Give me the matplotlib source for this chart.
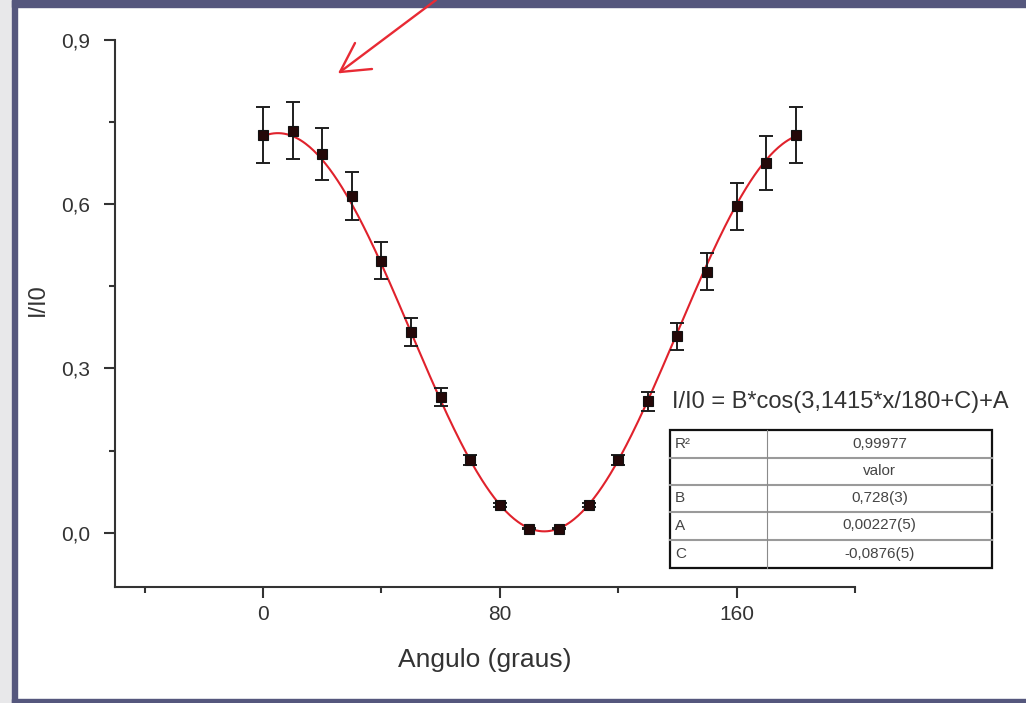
import numpy as np
import matplotlib.pyplot as plt
from matplotlib.patches import Rectangle

plt.rcParams['font.family'] = ['Liberation Sans', 'DejaVu Sans']

# Dados
angulo = [0, 10, 20, 30, 40, 50, 60, 70, 80, 90, 100, 110, 120, 130, 140, 150, 160, 170, 180]
intensidade = [0.727, 0.735, 0.692, 0.616, 0.497, 0.367, 0.248, 0.132, 0.051, 0.007,
               0.007, 0.051, 0.132, 0.240, 0.359, 0.477, 0.597, 0.676, 0.727]
erro = [0.051, 0.052, 0.048, 0.044, 0.034, 0.025, 0.016, 0.009, 0.004, 0.001,
        0.001, 0.004, 0.009, 0.017, 0.025, 0.034, 0.043, 0.049, 0.051]

# Parametros do ajuste
B = 0.728
A = 0.00227
C = -0.0876

tab_nomes = ['R²', '', 'B', 'A', 'C']
tab_valores = ['0,99977', 'valor', '0,728(3)', '0,00227(5)', '-0,0876(5)']

W, H = 1026, 703
fig = plt.figure(figsize=(W / 100, H / 100), dpi=100)

# fundo e moldura (coordenadas em pixels)
bg = fig.add_axes([0, 0, 1, 1], zorder=0)
bg.set_xlim(0, W)
bg.set_ylim(H, 0)
bg.axis('off')
bg.add_patch(Rectangle((0, 0), W, H, color='#e8e8ea'))
bg.add_patch(Rectangle((12, 0), W - 12, H, color='white'))
borda = '#55577d'
bg.add_patch(Rectangle((12, 0), W - 12, 7, color=borda))
bg.add_patch(Rectangle((12, 0), 5, H, color=borda))
bg.add_patch(Rectangle((12, H - 4), W - 12, 4, color=borda))

# seta vermelha
seta = '#e82a34'
bg.plot([436, 340], [0, 72], color=seta, lw=1.7, solid_capstyle='round')
bg.plot([340, 355], [72, 43], color=seta, lw=1.7, solid_capstyle='round')
bg.plot([340, 372], [72, 69], color=seta, lw=1.7, solid_capstyle='round')

# grafico
ax = fig.add_axes([115 / W, (H - 587.3) / H, (855 - 115) / W, (587.3 - 40.3) / H], zorder=2)
ax.patch.set_alpha(0)

xf = np.linspace(0, 180, 400)
yf = B * np.cos(np.pi * xf / 180 + C) ** 2 + A
ax.plot(xf, yf, color='#e0222c', lw=1.5, zorder=2)
ax.errorbar(angulo, intensidade, yerr=erro, fmt='none', ecolor='#1e1e1e',
            elinewidth=1.4, capsize=5, capthick=1.4, zorder=3)
ax.plot(angulo, intensidade, 's', ms=7.5, mfc='#240808', mec='#111111', mew=0.8, zorder=4)

ax.set_xlim(-50, 200)
ax.set_ylim(-0.1, 0.9)
ax.set_xticks([0, 80, 160])
ax.set_xticks([-40, 40, 120, 200], minor=True)
ax.set_yticks([0, 0.3, 0.6, 0.9])
ax.set_yticklabels(['0,0', '0,3', '0,6', '0,9'])
ax.set_yticks([0.15, 0.45, 0.75], minor=True)
for s in ['top', 'right']:
    ax.spines[s].set_visible(False)
for s in ['left', 'bottom']:
    ax.spines[s].set_color('#333333')
    ax.spines[s].set_linewidth(1.5)
ax.tick_params(which='major', direction='out', length=8, width=1.5, color='#333333',
               labelsize=15, labelcolor='#333333')
ax.tick_params(axis='y', which='major', pad=10)
ax.tick_params(axis='x', which='major', pad=5)
ax.tick_params(which='minor', direction='out', length=4, width=1.5, color='#333333')

fig.text(485 / W, 1 - 660 / H, 'Angulo (graus)', ha='center', va='center',
         fontsize=19, color='#333333')
fig.text(38 / W, 1 - 300 / H, 'I/I0', ha='center', va='center', rotation=90,
         fontsize=17, color='#333333')

# tabela do ajuste
tb = fig.add_axes([0, 0, 1, 1], zorder=3)
tb.set_xlim(0, W)
tb.set_ylim(H, 0)
tb.axis('off')
tb.text(672, 402, 'I/I0 = B*cos(3,1415*x/180+C)+A', ha='left', va='center',
        fontsize=17, color='#333333')
x0, x1, xm = 670, 992, 767
linhas = [430, 457.5, 484.5, 511.5, 539.5, 568]
tb.add_patch(Rectangle((x0, linhas[0]), x1 - x0, linhas[-1] - linhas[0],
                       facecolor='white', edgecolor='#111111', lw=1.6))
for yl in linhas[1:-1]:
    tb.plot([x0, x1], [yl, yl], color='#9a9a9a', lw=1.5)
tb.plot([xm, xm], [linhas[0], linhas[-1]], color='#8a8a8a', lw=0.8)
for i, (nome, valor) in enumerate(zip(tab_nomes, tab_valores)):
    yc = (linhas[i] + linhas[i + 1]) / 2
    tb.text(675, yc, nome, ha='left', va='center', fontsize=11, color='#444444')
    tb.text((xm + x1) / 2, yc, valor, ha='center', va='center', fontsize=11, color='#444444')

fig.savefig('out.png', dpi=100)
